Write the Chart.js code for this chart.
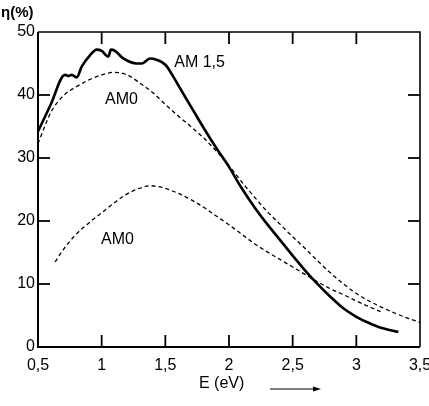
<!DOCTYPE html>
<html><head><meta charset="utf-8">
<script src="https://cdn.jsdelivr.net/npm/chart.js@4/dist/chart.umd.min.js"></script>
<style>html,body{margin:0;padding:0;background:#fff}#wrap{width:429px;height:406px}</style>
</head><body><div id="wrap"><canvas id="c" width="429" height="406"></canvas></div>
<script>
// Energy gap E (eV) and efficiency η (%)
const am15E = [0.5,0.6,0.712,0.738,0.765,0.804,0.843,0.908,0.961,1.0,1.052,1.073,1.105,1.17,1.275,1.315,1.38,1.43,1.5,1.56,1.6,1.7,1.8,1.9,2.0,2.1,2.2,2.3,2.4,2.5,2.6,2.7,2.8,2.9,3.0,3.1,3.2,3.33];
const am15Eta = [34.2,38.5,43.2,43.0,43.2,42.8,44.5,46.3,47.2,47.0,46.1,47.2,47.0,45.8,45.0,45.0,45.8,45.6,44.8,43.0,41.6,38.2,34.8,31.6,28.6,25.2,22.2,19.5,17.0,14.5,12.1,9.9,7.9,6.1,4.8,3.8,3.0,2.4];
const am0UpperE = [0.5,0.6,0.7,0.8,0.9,1.0,1.1,1.2,1.3,1.4,1.5,1.6,1.7,1.8,1.9,2.0,2.1,2.2,2.3,2.4,2.5,2.6,2.7,2.8,2.9,3.0,3.1,3.2,3.3,3.4,3.5];
const am0UpperEta = [32.3,37.2,39.9,41.3,42.4,43.2,43.6,43.2,41.9,40.4,38.5,36.7,35.0,33.2,31.1,28.8,26.2,23.8,21.5,19.5,17.5,15.6,13.6,11.7,10.0,8.5,7.3,6.3,5.4,4.6,3.9];
const am0LowerE = [0.634,0.7,0.8,0.9,1.0,1.1,1.2,1.3,1.38,1.46,1.6,1.7,1.8,1.9,2.0,2.1,2.2,2.3,2.4,2.5,2.65,2.8,2.9,3.0,3.1,3.19];
const am0LowerEta = [13.5,15.5,17.9,19.7,21.3,22.9,24.3,25.2,25.6,25.4,24.4,23.4,22.2,20.8,19.4,17.9,16.4,15.1,13.9,12.7,10.9,9.2,8.3,7.3,6.4,5.6];
const xTicks = [0.5,1,1.5,2,2.5,3,3.5];
const yTicks = [0,10,20,30,40,50];
const innerXTicks = [1,1.5,2,2.5,3];
const innerYTicks = [10,20,30,40];
const labels = [
  {text:'AM 1,5', x:1.57, y:45.2},
  {text:'AM0', x:1.026, y:39.2},
  {text:'AM0', x:0.995, y:17.0}
];

const pts = (xs, ys) => xs.map((x,i)=>({x:x, y:ys[i]}));
const FONT = '"Liberation Sans", Arial, sans-serif';

const framePlugin = {
  id:'frame',
  afterDraw(chart){
    const ctx = chart.ctx, a = chart.chartArea, xs = chart.scales.x, ys = chart.scales.y;
    ctx.save();
    ctx.strokeStyle = '#000';
    ctx.lineCap = 'butt';
    ctx.lineWidth = 2;
    ctx.beginPath(); ctx.moveTo(a.left, a.top); ctx.lineTo(a.left, a.bottom); ctx.lineTo(a.right, a.bottom); ctx.stroke();
    ctx.lineWidth = 1.6;
    ctx.beginPath(); ctx.moveTo(a.left, a.top); ctx.lineTo(a.right, a.top); ctx.lineTo(a.right, a.bottom); ctx.stroke();
    ctx.lineWidth = 1.8;
    const L = 12;
    innerXTicks.forEach(v=>{
      const px = xs.getPixelForValue(v);
      ctx.beginPath(); ctx.moveTo(px, a.bottom); ctx.lineTo(px, a.bottom - L); ctx.stroke();
      ctx.beginPath(); ctx.moveTo(px, a.top); ctx.lineTo(px, a.top + L); ctx.stroke();
    });
    innerYTicks.forEach(v=>{
      const py = ys.getPixelForValue(v);
      ctx.beginPath(); ctx.moveTo(a.left, py); ctx.lineTo(a.left + L, py); ctx.stroke();
      ctx.beginPath(); ctx.moveTo(a.right, py); ctx.lineTo(a.right - L, py); ctx.stroke();
    });
    ctx.fillStyle = '#000';
    ctx.font = '16px ' + FONT;
    ctx.textBaseline = 'middle';
    ctx.textAlign = 'left';
    labels.forEach(l=>{
      ctx.fillText(l.text, xs.getPixelForValue(l.x), ys.getPixelForValue(l.y));
    });
    ctx.font = 'bold 15px ' + FONT;
    ctx.fillText('η(%)', 1, 13);
    ctx.font = '16px ' + FONT;
    ctx.fillText('E (eV)', 199, 384);
    ctx.lineWidth = 1.2;
    ctx.beginPath(); ctx.moveTo(270, 389); ctx.lineTo(316, 389); ctx.stroke();
    ctx.beginPath(); ctx.moveTo(321, 389); ctx.lineTo(313, 386.5); ctx.lineTo(313, 391.5); ctx.closePath(); ctx.fill();
    ctx.restore();
  }
};

new Chart(document.getElementById('c'), {
  type:'line',
  data:{
    datasets:[
      {label:'AM 1,5', data:pts(am15E, am15Eta), borderColor:'#000', borderWidth:2.6, pointRadius:0, cubicInterpolationMode:'monotone', fill:false},
      {label:'AM0 upper', data:pts(am0UpperE, am0UpperEta), borderColor:'#000', borderWidth:1.3, borderDash:[4,3], pointRadius:0, cubicInterpolationMode:'monotone', fill:false},
      {label:'AM0 lower', data:pts(am0LowerE, am0LowerEta), borderColor:'#000', borderWidth:1.3, borderDash:[4,3], pointRadius:0, cubicInterpolationMode:'monotone', fill:false}
    ]
  },
  options:{
    responsive:false,
    animation:false,
    layout:{padding:{top:32, right:9, left:0, bottom:0}},
    plugins:{legend:{display:false}, tooltip:{enabled:false}},
    scales:{
      x:{
        type:'linear', min:0.5, max:3.5,
        afterBuildTicks(s){ s.ticks = xTicks.map(v=>({value:v})); },
        afterFit(s){ s.height = 59; s.paddingLeft = 0; s.paddingRight = 0; },
        grid:{display:false, drawTicks:false},
        border:{display:false},
        ticks:{color:'#000', padding:9, maxRotation:0, autoSkip:false, font:{family:FONT, size:16},
          callback:(v)=>String(v).replace('.', ',')}
      },
      y:{
        type:'linear', min:0, max:50,
        afterBuildTicks(s){ s.ticks = yTicks.map(v=>({value:v})); },
        afterFit(s){ s.width = 38; s.paddingTop = 0; s.paddingBottom = 0; },
        grid:{display:false, drawTicks:false},
        border:{display:false},
        ticks:{color:'#000', padding:3, font:{family:FONT, size:16}}
      }
    }
  },
  plugins:[framePlugin]
});
</script>
</body></html>
